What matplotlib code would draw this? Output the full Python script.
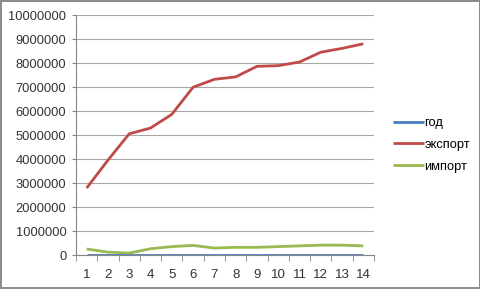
import numpy as np
import matplotlib.pyplot as plt
from matplotlib.ticker import MultipleLocator, FixedLocator

plt.rcParams['font.family'] = ['Liberation Sans', 'DejaVu Sans']

# data
x = np.arange(1, 15)
god = [1995, 1996, 1997, 1998, 1999, 2000, 2001, 2002, 2003, 2004, 2005, 2006, 2007, 2008]
eksport = [2790000, 3950000, 5050000, 5290000, 5860000, 6990000, 7320000, 7420000,
           7860000, 7890000, 8040000, 8450000, 8610000, 8800000]
import_ = [250000, 120000, 80000, 260000, 350000, 400000, 290000, 320000,
           320000, 350000, 380000, 410000, 410000, 380000]

fig = plt.figure(figsize=(4.81, 2.89), dpi=100)
fig.patch.set_edgecolor("#8c8c8c")
fig.patch.set_linewidth(1.5)
ax = fig.add_axes([76 / 481, 1 - 255 / 289, (374 - 76) / 481, 240 / 289])

ax.plot(x, god, color="#4A7EBB", lw=2.0, label="год", solid_capstyle="butt", zorder=3)
ax.plot(x, eksport, color="#BE4B48", lw=2.0, label="экспорт", solid_capstyle="butt")
ax.plot(x, import_, color="#98B954", lw=2.0, label="импорт", solid_capstyle="butt")

ax.set_xlim(0.5, 14.5)
ax.set_ylim(0, 10000000)
ax.yaxis.set_major_locator(MultipleLocator(1000000))
ax.set_yticklabels([f"{int(v)}" for v in ax.get_yticks()])
ax.set_xticks(x)
ax.xaxis.set_minor_locator(FixedLocator(np.arange(0.5, 15, 1)))
ax.tick_params(axis="x", which="major", length=0, pad=10, labelsize=9.5, colors="#333333")
ax.tick_params(axis="x", which="minor", length=4, color="#868686")
ax.tick_params(axis="y", length=3, pad=4, labelsize=9.3, color="#868686", labelcolor="#333333")

ax.grid(axis="y", color="#a6a6a6", lw=0.8)
ax.set_axisbelow(True)
for s in ["top", "right"]:
    ax.spines[s].set_visible(False)
for s in ["left", "bottom"]:
    ax.spines[s].set_color("#868686")
    ax.spines[s].set_linewidth(0.8)

leg = fig.legend(loc="center left", bbox_to_anchor=(381 / 481, 1 - 145 / 289),
                 frameon=False, fontsize=9.3, handlelength=2.4, handletextpad=0.05,
                 labelspacing=0.75)

fig.savefig("out.png", dpi=100)
